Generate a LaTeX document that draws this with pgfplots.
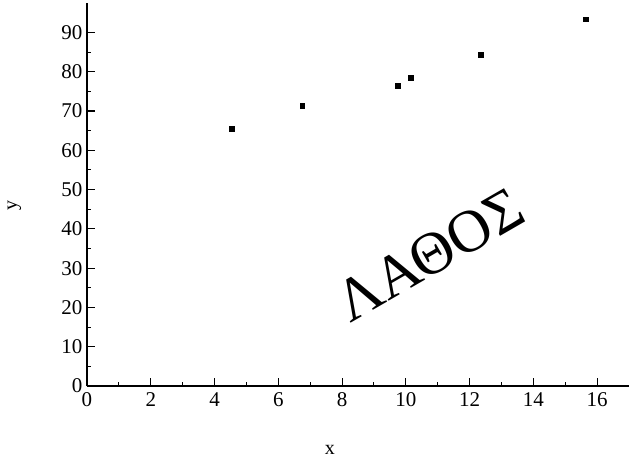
\documentclass[border=0pt]{standalone}
\usepackage{fontspec}
\setmainfont{Liberation Serif}
\usepackage{pgfplots}
\pgfplotsset{compat=1.18}
\begin{document}
\begin{tikzpicture}[x=1pt,y=1pt]
\begin{axis}[
  at={(0,0)}, anchor=south west,
  scale only axis, width=542pt, height=383pt,
  xmin=0, xmax=17, ymin=0, ymax=97.5,
  axis lines=left, axis line style={-, line width=1.2pt},
  xtick={0,2,...,16}, ytick={0,10,...,90},
  minor x tick num=1, minor y tick num=1,
  tick align=inside,
  major tick length=8pt, minor tick length=4pt,
  every tick/.style={line width=1.1pt, black},
  /pgf/number format/assume math mode=true,
  tick label style={font=\fontsize{21}{24}\selectfont},
  xticklabel style={yshift=-3pt},
  yticklabel style={xshift=-1pt},
  xlabel={x}, ylabel={y},
  label style={font=\fontsize{20}{24}\selectfont},
  xlabel style={at={(axis description cs:0.448,0)}, anchor=center, yshift=-64pt},
  ylabel style={at={(axis description cs:-0.134,0.472)}, anchor=center},
  clip=false,
]
\addplot[only marks, mark=square*, mark size=2.4pt, black] coordinates {
  (4.54,65.4) (6.75,71.4) (9.75,76.4) (10.15,78.5) (12.36,84.4) (15.65,93.4)
};
\node[rotate=30, font=\fontsize{60}{64}\selectfont] at (axis cs:10.75,33.4) {ΛΑΘΟΣ};
\end{axis}
\pgfresetboundingbox
\path (-87pt,-75pt) rectangle (542pt,386pt);
\end{tikzpicture}
\end{document}
